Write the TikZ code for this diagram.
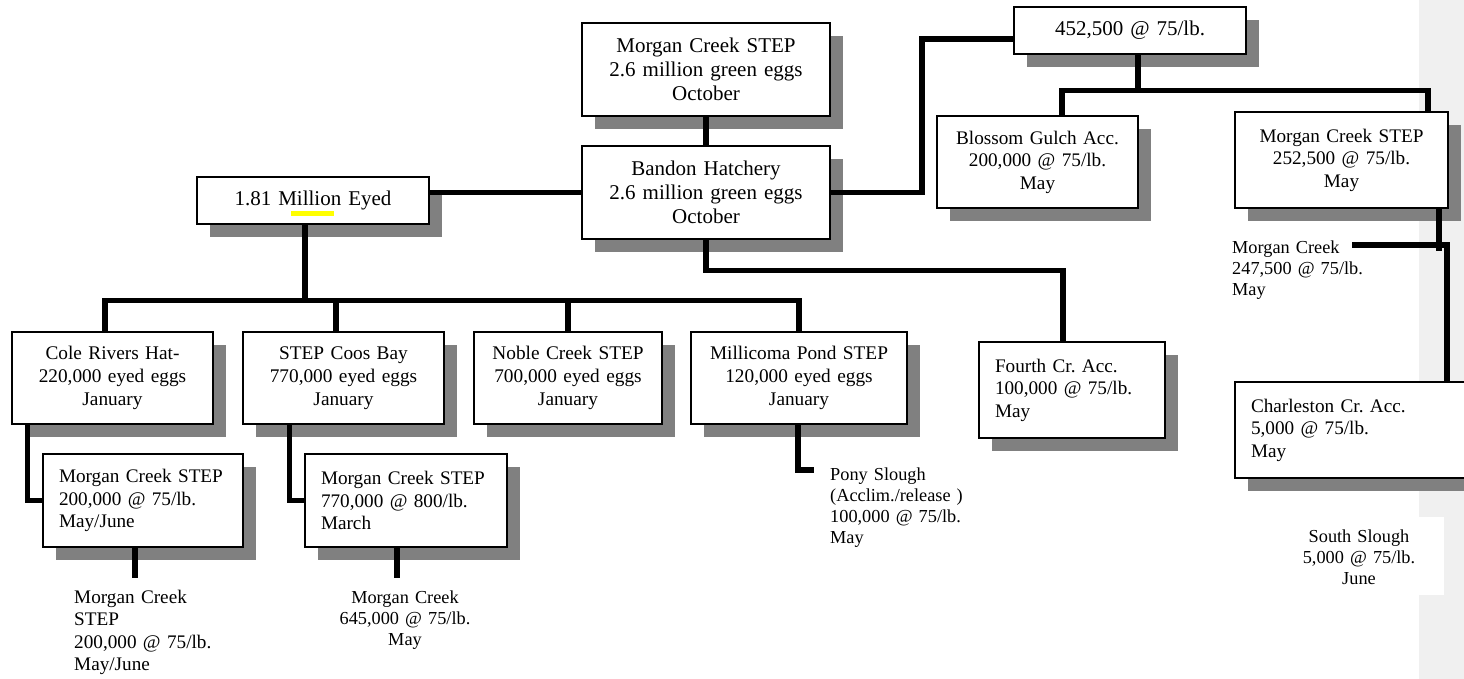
\documentclass[tikz,border=0pt]{standalone}
\usepackage{fontspec}
\setmainfont{Liberation Serif}
\usetikzlibrary{shadows}
\definecolor{shadowgray}{HTML}{808080}
\definecolor{panelgray}{HTML}{F0F0F0}
\definecolor{hl}{HTML}{FFFF00}
\frenchspacing
\begin{document}
\begin{tikzpicture}[x=1pt,y=-1pt,
  box/.style={draw, line width=1.2pt, fill=white, inner sep=0pt,
    general shadow={fill=shadowgray, shadow xshift=13pt, shadow yshift=-13pt}},
  cbox/.style={box, align=center, text width=#1, minimum width=#1},
  lbox/.style={box, align=left, inner xsep=16pt, text width=#1},
  free/.style={inner sep=0pt, align=left},
  fA/.style={font=\fontsize{21pt}{24pt}\selectfont},
  fB/.style={font=\fontsize{19.3pt}{23pt}\selectfont},
  fC/.style={font=\fontsize{19.2pt}{22.5pt}\selectfont},
  fD/.style={font=\fontsize{18.3pt}{21pt}\selectfont},
  conn/.style={line width=5.5pt, line join=miter}]
\useasboundingbox (0,0) rectangle (1464,679);
\fill[panelgray] (1419,0) rectangle (1464,679);
\fill[white] (1270,517) rectangle (1444,595);

% boxes
\node[cbox=248pt, minimum height=93pt, fA] (T1) at (706,69.5) {Morgan Creek STEP\\2.6 million green eggs\\October};
\node[cbox=248pt, minimum height=93pt, fA] (B) at (706,192.5) {Bandon Hatchery\\2.6 million green eggs\\October};
\node[cbox=232pt, minimum height=47pt, fA] (M) at (313,200.5) {1.81 Million Eyed};
\node[cbox=232pt, minimum height=47pt, fA] (Q) at (1130,30.5) {452,500 @ 75/lb.};
\node[cbox=201pt, minimum height=92pt, fC] (BG) at (1037.5,162) {Blossom Gulch Acc.\\200,000 @ 75/lb.\\May};
\node[cbox=213pt, minimum height=96pt, fC] (MC3) at (1341.5,160) {Morgan Creek STEP\\252,500 @ 75/lb.\\May};
\node[cbox=201pt, minimum height=92pt, fB] (CR) at (112.5,378) {Cole Rivers Hat-\\220,000 eyed eggs\\January};
\node[cbox=201pt, minimum height=92pt, fB] (CB) at (343.5,378) {STEP Coos Bay\\770,000 eyed eggs\\January};
\node[cbox=188pt, minimum height=92pt, fB] (NC) at (568,378) {Noble Creek STEP\\700,000 eyed eggs\\January};
\node[cbox=216pt, minimum height=92pt, fB] (MP) at (799,378) {Millicoma Pond STEP\\120,000 eyed eggs\\January};
\node[lbox=168pt, minimum height=93pt, fC] (CRs) at (143,500.5) {Morgan Creek STEP\\200,000 @ 75/lb.\\May/June};
\node[lbox=170pt, minimum height=93pt, fC] (CBs) at (406,500.5) {Morgan Creek STEP\\770,000 @ 800/lb.\\March};
\node[lbox=154pt, minimum height=96pt, fC] (FC) at (1072,390) {Fourth Cr. Acc.\\100,000 @ 75/lb.\\May};
\node[lbox=213pt, minimum height=96pt, fC] (CC) at (1357.5,430) {Charleston Cr. Acc.\\5,000 @ 75/lb.\\May};

\fill[hl] (291,211) rectangle (334,216);

% free texts
\node[free, fC, text width=170pt, anchor=base west] (CRf) at (74,603) {Morgan Creek\\STEP\\200,000 @ 75/lb.\\May/June};
\node[free, fD, align=center, text width=170pt, anchor=base] (CBf) at (405,603) {Morgan Creek\\645,000 @ 75/lb.\\May};
\node[free, fD, text width=170pt, anchor=base west] (PS) at (830,480) {Pony Slough\\(Acclim./release )\\100,000 @ 75/lb.\\May};
\node[free, fD, text width=150pt, anchor=base west] (MCf) at (1232,253) {Morgan Creek\\247,500 @ 75/lb.\\May};
\node[free, fD, align=center, text width=170pt, anchor=base] (SS) at (1359,542) {South Slough\\5,000 @ 75/lb.\\June};

\coordinate (psEnd) at (814,470);
\coordinate (mcEnd) at (1352,245);

% connectors
\draw[conn] (T1.south) -- (B.north);
\draw[conn] (B.west) -- (B.west -| M.east);
\draw[conn] ([xshift=-8pt]M.south) -- ++(0,77);
\draw[conn] ([xshift=-7.5pt]CR.north) -- ++(0,-31) -| (MP.north);
\draw[conn] ([xshift=-7.5pt]CB.north) -- ++(0,-31);
\draw[conn] (NC.north) -- ++(0,-31);
\draw[conn] ([xshift=16pt]CR.south west) |- (CRs.west);
\draw[conn] ([xshift=47pt]CB.south west) |- (CBs.west);
\draw[conn] ([xshift=-8pt]CRs.south) -- ++(0,30);
\draw[conn] ([xshift=-9pt]CBs.south) -- ++(0,30);
\draw[conn] ([xshift=-1pt]MP.south) |- (psEnd);
\draw[conn] (B.south) -- ++(0,31) -| ([xshift=-9pt]FC.north);
\draw[conn] (B.east) -- ++(91.5,0) |- ([yshift=-8.5pt]Q.west);
\draw[conn] ([xshift=8pt]Q.south) -- ++(0,37);
\draw[conn] ([xshift=24.5pt]BG.north) -- ++(0,-25) -| ([xshift=86.5pt]MC3.north);
\draw[conn] ([xshift=97.5pt]MC3.south) -- ++(0,42);
\draw[conn] (mcEnd) -| ([xshift=89.5pt]CC.north);
\end{tikzpicture}
\end{document}
